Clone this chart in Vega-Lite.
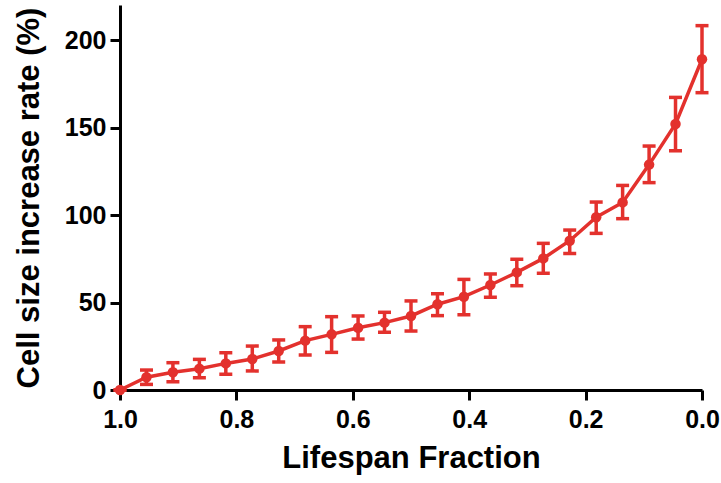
{
  "$schema": "https://vega.github.io/schema/vega-lite/v6.json",
  "width": 582,
  "height": 385,
  "autosize": "none",
  "padding": {"left": 120, "top": 5, "right": 19, "bottom": 93},
  "background": "white",
  "config": {
    "view": {"stroke": null},
    "axis": {
      "domainColor": "black", "domainWidth": 3,
      "tickColor": "black", "tickWidth": 3, "tickSize": 10,
      "labelFont": "Liberation Sans", "labelFontWeight": "bold", "labelFontSize": 25, "labelColor": "black",
      "titleFont": "Liberation Sans", "titleFontWeight": "bold", "titleFontSize": 31, "titleColor": "black",
      "grid": false
    }
  },
  "data": {"values": [
    {"x": 1.0, "y": 0, "lo": 0, "hi": 0},
    {"x": 0.9545, "y": 7.3, "lo": 3.2, "hi": 11.4},
    {"x": 0.9091, "y": 10.1, "lo": 4.7, "hi": 15.6},
    {"x": 0.8636, "y": 12.2, "lo": 7.0, "hi": 17.5},
    {"x": 0.8182, "y": 15.2, "lo": 9.0, "hi": 21.3},
    {"x": 0.7727, "y": 17.7, "lo": 10.9, "hi": 25.1},
    {"x": 0.7273, "y": 22.3, "lo": 16.0, "hi": 28.6},
    {"x": 0.6818, "y": 28.2, "lo": 20.0, "hi": 36.2},
    {"x": 0.6364, "y": 31.8, "lo": 21.5, "hi": 41.9},
    {"x": 0.5909, "y": 35.6, "lo": 29.1, "hi": 42.3},
    {"x": 0.5455, "y": 38.5, "lo": 33.0, "hi": 44.4},
    {"x": 0.5, "y": 42.3, "lo": 33.7, "hi": 50.9},
    {"x": 0.4545, "y": 49.0, "lo": 42.5, "hi": 55.0},
    {"x": 0.4091, "y": 53.3, "lo": 43.0, "hi": 63.2},
    {"x": 0.3636, "y": 60.0, "lo": 53.0, "hi": 66.3},
    {"x": 0.3182, "y": 67.2, "lo": 59.6, "hi": 74.7},
    {"x": 0.2727, "y": 75.2, "lo": 66.7, "hi": 83.8},
    {"x": 0.2273, "y": 85.3, "lo": 78.0, "hi": 91.4},
    {"x": 0.1818, "y": 98.7, "lo": 89.5, "hi": 107.4},
    {"x": 0.1364, "y": 107.2, "lo": 97.9, "hi": 116.9},
    {"x": 0.0909, "y": 128.8, "lo": 118.5, "hi": 139.4},
    {"x": 0.0455, "y": 152.0, "lo": 136.7, "hi": 167.2},
    {"x": 0.0, "y": 189.0, "lo": 169.9, "hi": 208.2}
  ]},
  "encoding": {
    "x": {
      "field": "x", "type": "quantitative",
      "scale": {"domain": [0, 1], "reverse": true, "nice": false, "zero": false},
      "axis": {"values": [0, 0.2, 0.4, 0.6, 0.8, 1.0], "format": ".1f", "title": "Lifespan Fraction", "labelPadding": 7, "titlePadding": 11, "labelFlush": false}
    }
  },
  "layer": [
    {
      "mark": {"type": "rule", "color": "#e3312d", "strokeWidth": 3.5},
      "encoding": {
        "y": {"field": "lo", "type": "quantitative", "scale": {"domain": [0, 220], "nice": false},
          "axis": {"values": [0, 50, 100, 150, 200], "title": "Cell size increase rate (%)", "labelPadding": 4, "titlePadding": 19}},
        "y2": {"field": "hi"}
      }
    },
    {
      "mark": {"type": "tick", "color": "#e3312d", "size": 13, "thickness": 3.5, "orient": "horizontal", "opacity": 1},
      "encoding": {"y": {"field": "lo", "type": "quantitative"}}
    },
    {
      "mark": {"type": "tick", "color": "#e3312d", "size": 13, "thickness": 3.5, "orient": "horizontal", "opacity": 1},
      "encoding": {"y": {"field": "hi", "type": "quantitative"}}
    },
    {
      "mark": {"type": "line", "color": "#e3312d", "strokeWidth": 3.5},
      "encoding": {"y": {"field": "y", "type": "quantitative"}}
    },
    {
      "mark": {"type": "point", "filled": true, "color": "#e3312d", "size": 110, "opacity": 1},
      "encoding": {"y": {"field": "y", "type": "quantitative"}}
    }
  ]
}
